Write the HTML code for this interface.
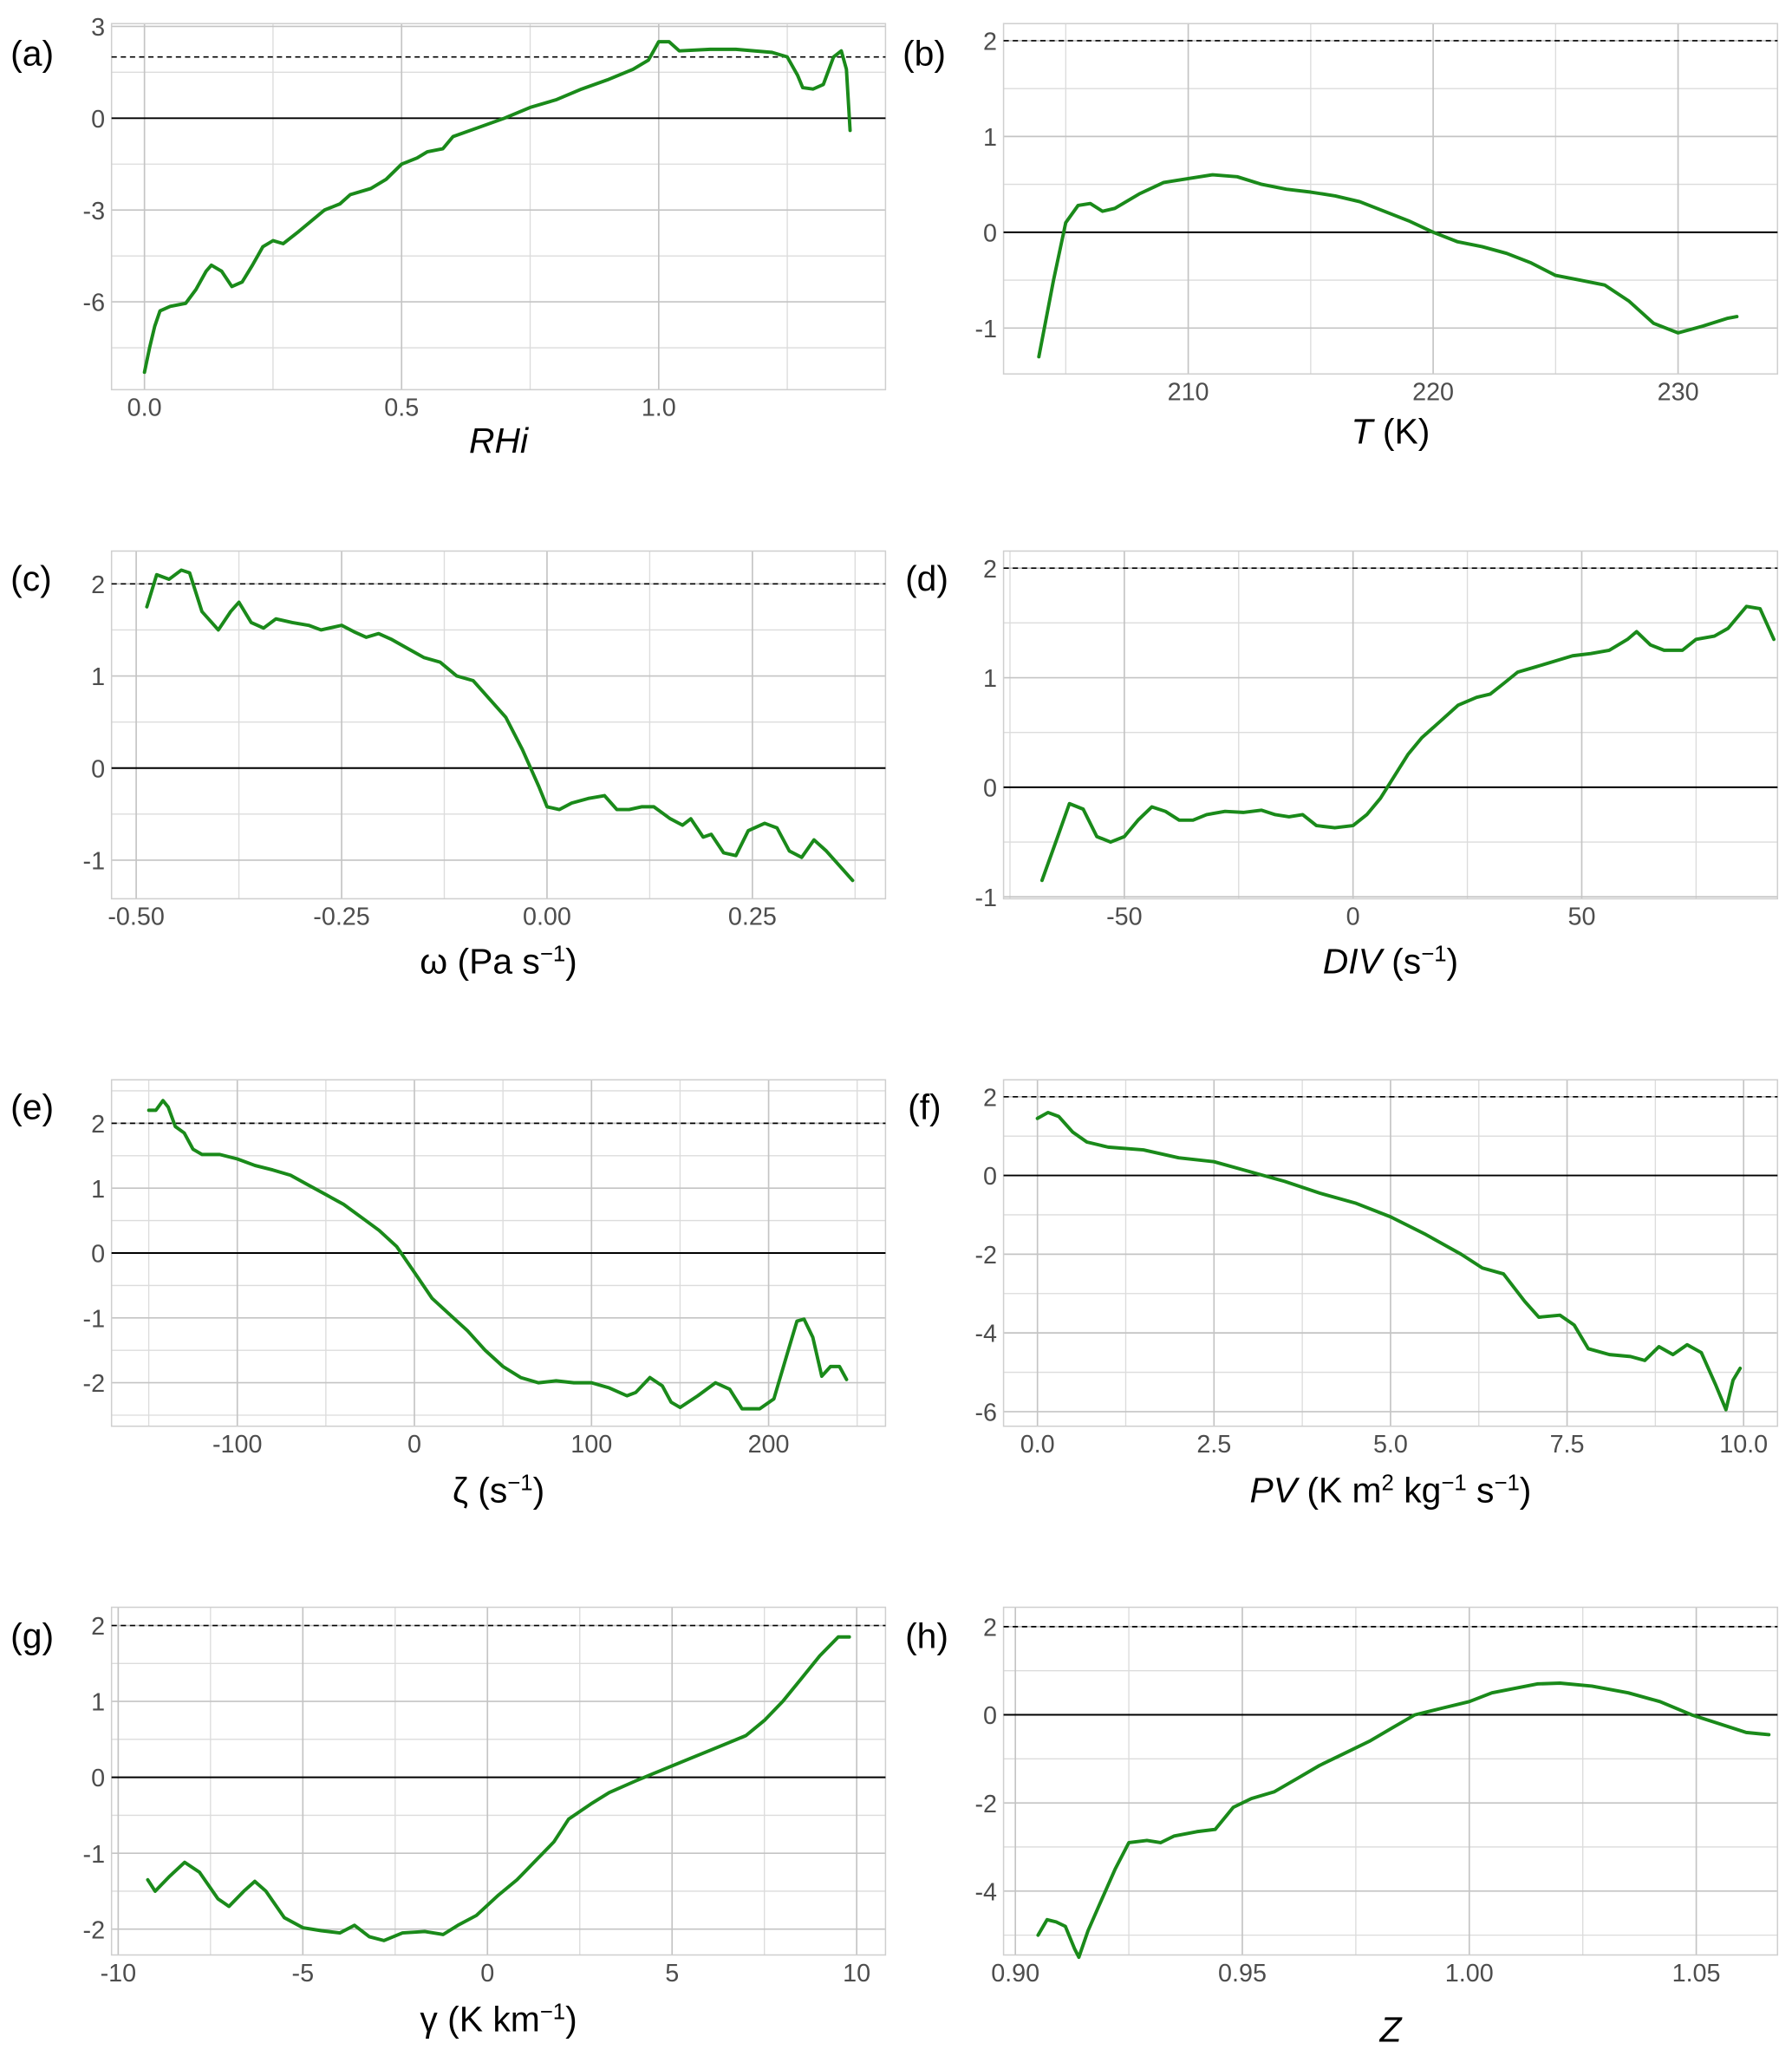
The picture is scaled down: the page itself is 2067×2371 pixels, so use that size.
<!DOCTYPE html>
<html><head><meta charset="utf-8">
<style>
html,body{margin:0;padding:0;background:#fff;}
svg{display:block;font-family:"Liberation Sans",sans-serif;}
</style></head>
<body>
<svg id="fig" width="2067" height="2371" viewBox="0 0 1366 1567" xmlns="http://www.w3.org/2000/svg"></svg>
<script>
// ---- data arrays ----
const aX=[0.0,0.01,0.02,0.03,0.05,0.08,0.1,0.12,0.13,0.15,0.17,0.19,0.21,0.23,0.25,0.27,0.3,0.35,0.38,0.4,0.44,0.47,0.5,0.53,0.55,0.58,0.6,0.65,0.7,0.75,0.8,0.85,0.9,0.95,0.98,1.0,1.02,1.04,1.1,1.15,1.22,1.25,1.27,1.28,1.3,1.32,1.34,1.355,1.365,1.372];
const aY=[-8.3,-7.5,-6.8,-6.3,-6.15,-6.05,-5.6,-5.0,-4.8,-5.0,-5.5,-5.35,-4.8,-4.2,-4.0,-4.1,-3.7,-3.0,-2.8,-2.5,-2.3,-2.0,-1.5,-1.3,-1.1,-1.0,-0.6,-0.3,0.0,0.35,0.6,0.95,1.25,1.6,1.9,2.5,2.5,2.2,2.25,2.25,2.15,2.0,1.4,1.0,0.95,1.1,2.0,2.2,1.6,-0.4];
const bX=[203.9,204.5,205,205.5,206,206.5,207,208,209,210,211,212,213,214,215,216,217,218,219,220,221,222,223,224,225,226,227,228,229,230,231,232,232.4];
const bY=[-1.3,-0.5,0.1,0.28,0.3,0.22,0.25,0.4,0.52,0.56,0.6,0.58,0.5,0.45,0.42,0.38,0.32,0.22,0.12,0.0,-0.1,-0.15,-0.22,-0.32,-0.45,-0.5,-0.55,-0.72,-0.95,-1.05,-0.98,-0.9,-0.88];
const cX=[-0.487,-0.475,-0.46,-0.445,-0.435,-0.42,-0.40,-0.385,-0.375,-0.36,-0.345,-0.33,-0.31,-0.29,-0.275,-0.25,-0.235,-0.22,-0.205,-0.19,-0.17,-0.15,-0.13,-0.11,-0.09,-0.07,-0.05,-0.03,-0.01,0.0,0.015,0.03,0.05,0.07,0.085,0.1,0.115,0.13,0.15,0.165,0.175,0.19,0.2,0.215,0.23,0.245,0.265,0.28,0.295,0.31,0.325,0.34,0.36,0.372];
const cY=[1.75,2.1,2.05,2.15,2.12,1.7,1.5,1.7,1.8,1.58,1.52,1.62,1.58,1.55,1.5,1.55,1.48,1.42,1.46,1.4,1.3,1.2,1.15,1.0,0.95,0.75,0.55,0.2,-0.2,-0.42,-0.45,-0.38,-0.33,-0.3,-0.45,-0.45,-0.42,-0.42,-0.55,-0.62,-0.55,-0.75,-0.72,-0.92,-0.95,-0.68,-0.6,-0.65,-0.9,-0.97,-0.78,-0.9,-1.1,-1.22];
const dX=[-68,-65,-62,-59,-56,-53,-50,-47,-44,-41,-38,-35,-32,-28,-24,-20,-17,-14,-11,-8,-4,0,3,6,9,12,15,19,23,27,30,33,36,40,44,48,52,56,60,62,65,68,72,75,79,82,86,89,92];
const dY=[-0.85,-0.5,-0.15,-0.2,-0.45,-0.5,-0.45,-0.3,-0.18,-0.22,-0.3,-0.3,-0.25,-0.22,-0.23,-0.21,-0.25,-0.27,-0.25,-0.35,-0.37,-0.35,-0.25,-0.1,0.1,0.3,0.45,0.6,0.75,0.82,0.85,0.95,1.05,1.1,1.15,1.2,1.22,1.25,1.35,1.42,1.3,1.25,1.25,1.35,1.38,1.45,1.65,1.63,1.35];
const eX=[-150,-146,-142,-139,-135,-130,-125,-120,-110,-100,-90,-80,-70,-60,-50,-40,-30,-20,-10,0,10,20,30,40,50,60,70,80,90,100,110,120,125,133,140,145,150,160,170,178,185,195,203,210,216,220,225,230,235,240,244];
const eY=[2.2,2.2,2.35,2.25,1.95,1.85,1.6,1.52,1.52,1.45,1.35,1.28,1.2,1.05,0.9,0.75,0.55,0.35,0.1,-0.3,-0.7,-0.95,-1.2,-1.5,-1.75,-1.92,-2.0,-1.97,-2.0,-2.0,-2.08,-2.2,-2.15,-1.92,-2.05,-2.3,-2.38,-2.2,-2.0,-2.1,-2.4,-2.4,-2.25,-1.6,-1.05,-1.02,-1.3,-1.9,-1.75,-1.75,-1.95];
const fX=[0.0,0.15,0.3,0.5,0.7,1.0,1.5,2.0,2.5,3.0,3.5,4.0,4.5,5.0,5.5,6.0,6.3,6.6,6.9,7.1,7.4,7.6,7.8,8.1,8.4,8.6,8.8,9.0,9.2,9.4,9.6,9.75,9.85,9.95];
const fY=[1.45,1.6,1.5,1.1,0.85,0.72,0.65,0.45,0.35,0.1,-0.15,-0.45,-0.7,-1.05,-1.5,-2.0,-2.35,-2.5,-3.2,-3.6,-3.55,-3.8,-4.4,-4.55,-4.6,-4.7,-4.35,-4.55,-4.3,-4.5,-5.3,-5.95,-5.2,-4.9];
const gX=[-9.2,-9.0,-8.6,-8.2,-7.8,-7.3,-7.0,-6.6,-6.3,-6.0,-5.5,-5.0,-4.5,-4.0,-3.6,-3.2,-2.8,-2.3,-1.7,-1.2,-0.8,-0.3,0.3,0.8,1.3,1.8,2.2,2.8,3.3,4.0,4.5,5.0,5.5,6.0,6.5,7.0,7.5,8.0,8.5,9.0,9.5,9.8];
const gY=[-1.35,-1.5,-1.3,-1.12,-1.25,-1.6,-1.7,-1.5,-1.37,-1.5,-1.85,-1.98,-2.02,-2.05,-1.95,-2.1,-2.15,-2.05,-2.03,-2.07,-1.95,-1.82,-1.55,-1.35,-1.1,-0.85,-0.55,-0.35,-0.2,-0.05,0.05,0.15,0.25,0.35,0.45,0.55,0.75,1.0,1.3,1.6,1.85,1.85];
const hX=[0.905,0.907,0.909,0.911,0.913,0.914,0.916,0.919,0.922,0.925,0.929,0.932,0.935,0.94,0.944,0.948,0.952,0.957,0.962,0.967,0.972,0.978,0.983,0.988,0.994,1.0,1.005,1.01,1.015,1.02,1.027,1.035,1.042,1.049,1.055,1.061,1.066];
const hY=[-5.0,-4.65,-4.7,-4.8,-5.3,-5.5,-4.9,-4.2,-3.5,-2.9,-2.85,-2.9,-2.75,-2.65,-2.6,-2.1,-1.9,-1.75,-1.45,-1.15,-0.9,-0.6,-0.3,0.0,0.15,0.3,0.5,0.6,0.7,0.72,0.65,0.5,0.3,0.0,-0.2,-0.4,-0.45];
// tick arrays
const aXt=[0,0.5,1.0], aXl=["0.0","0.5","1.0"], aYt=[-6,-3,0,3], aYl=["-6","-3","0","3"];
const bXt=[210,220,230], bXl=["210","220","230"], bYt=[-1,0,1,2], bYl=["-1","0","1","2"];
const cXt=[-0.5,-0.25,0,0.25], cXl=["-0.50","-0.25","0.00","0.25"], cYt=[-1,0,1,2], cYl=["-1","0","1","2"];
const dXt=[-50,0,50], dXl=["-50","0","50"], dYt=[-1,0,1,2], dYl=["-1","0","1","2"];
const eXt=[-100,0,100,200], eXl=["-100","0","100","200"], eYt=[-2,-1,0,1,2], eYl=["-2","-1","0","1","2"];
const fXt=[0,2.5,5,7.5,10], fXl=["0.0","2.5","5.0","7.5","10.0"], fYt=[-6,-4,-2,0,2], fYl=["-6","-4","-2","0","2"];
const gXt=[-10,-5,0,5,10], gXl=["-10","-5","0","5","10"], gYt=[-2,-1,0,1,2], gYl=["-2","-1","0","1","2"];
const hXt=[0.90,0.95,1.00,1.05], hXl=["0.90","0.95","1.00","1.05"], hYt=[-4,-2,0,2], hYl=["-4","-2","0","2"];

const NS="http://www.w3.org/2000/svg";
const svg=document.getElementById('fig');
function mk(tag,attrs,parent){const e=document.createElementNS(NS,tag);for(const k in attrs)e.setAttribute(k,attrs[k]);(parent||svg).appendChild(e);return e;}

function panel(p){
  const g=mk('g',{});
  
  
  const sx=v=>p.x0+(v-p.xmin)/(p.xmax-p.xmin)*(p.x1-p.x0);
  const sy=v=>p.y1-(v-p.ymin)/(p.ymax-p.ymin)*(p.y1-p.y0);
  const xs=p.xt[1]-p.xt[0], ys=p.yt[1]-p.yt[0];
  const minors=(t,s,lo,hi)=>{const m=[];const all=[t[0]-s].concat(t).concat([t[t.length-1]+s]);for(let i=0;i<all.length-1;i++){const v=(all[i]+all[i+1])/2;if(v>lo&&v<hi)m.push(v);}return m;};
  minors(p.xt,xs,p.xmin,p.xmax).forEach(v=>{const l=mk('line',{x1:sx(v),x2:sx(v),y1:p.y0,y2:p.y1,stroke:'#dcdcdc','stroke-width':0.9},g);});
  minors(p.yt,ys,p.ymin,p.ymax).forEach(v=>{const l=mk('line',{x1:p.x0,x2:p.x1,y1:sy(v),y2:sy(v),stroke:'#dcdcdc','stroke-width':0.9},g);});
  p.xt.forEach((v,i)=>{
    const l=mk('line',{x1:sx(v),x2:sx(v),y1:p.y0,y2:p.y1,stroke:'#c4c4c4','stroke-width':1.1},g);
    
    const t=mk('text',{x:sx(v),y:p.y1+20,'text-anchor':'middle','font-size':19,fill:'#4d4d4d'},g);
    t.textContent=p.xl[i];
    
  });
  p.yt.forEach((v,i)=>{
    const l=mk('line',{x1:p.x0,x2:p.x1,y1:sy(v),y2:sy(v),stroke:'#c4c4c4','stroke-width':1.1},g);
    
    const t=mk('text',{x:p.x0-5,y:sy(v)+7,'text-anchor':'end','font-size':19,fill:'#4d4d4d'},g);
    t.textContent=p.yl[i];
    
  });
  const fr=mk('rect',{x:p.x0,y:p.y0,width:p.x1-p.x0,height:p.y1-p.y0,fill:'none',stroke:'#cfcfcf','stroke-width':1},g);
  
  const z=mk('line',{x1:p.x0,x2:p.x1,y1:sy(0),y2:sy(0),stroke:'#000','stroke-width':1.3},g);
  
  const d=mk('line',{x1:p.x0,x2:p.x1,y1:sy(2),y2:sy(2),stroke:'#000','stroke-width':1.1,'stroke-dasharray':'4,3'},g);
  
  const pts=p.X.map((v,i)=>sx(v).toFixed(1)+','+sy(p.Y[i]).toFixed(1)).join(' ');
  const c=mk('polyline',{points:pts,fill:'none',stroke:'#1a8a1a','stroke-width':2.6,'stroke-linejoin':'round','stroke-linecap':'round'},g);
  
  const lab=mk('text',{x:p.lx,y:p.ly,'font-size':27,fill:'#000'},g);
  lab.textContent='('+p.id+')';
  
  const ti=mk('text',{x:(p.x0+p.x1)/2,y:p.ty,'text-anchor':'middle','font-size':27,fill:'#000'},g);
  ti.innerHTML=p.title;
  
}
const sup=s=>'<tspan baseline-shift="super" font-size="17">'+s+'</tspan>';
panel({id:'a',x0:85,x1:675,y0:18,y1:297,xmin:-0.064,xmax:1.441,ymin:-8.87,ymax:3.09,X:aX,Y:aY,xt:aXt,xl:aXl,yt:aYt,yl:aYl,lx:8,ly:50,ty:345,title:'<tspan font-style="italic">RHi</tspan>'});
panel({id:'b',x0:765,x1:1355,y0:18,y1:285,xmin:202.46,xmax:234.06,ymin:-1.479,ymax:2.178,X:bX,Y:bY,xt:bXt,xl:bXl,yt:bYt,yl:bYl,lx:688,ly:50,ty:338,title:'<tspan font-style="italic">T</tspan> (K)'});
panel({id:'c',x0:85,x1:675,y0:420,y1:685,xmin:-0.53,xmax:0.412,ymin:-1.419,ymax:2.356,X:cX,Y:cY,xt:cXt,xl:cXl,yt:cYt,yl:cYl,lx:8,ly:450,ty:742,title:'ω (Pa s'+sup('−1')+')'});
panel({id:'d',x0:765,x1:1355,y0:420,y1:685,xmin:-76.4,xmax:92.8,ymin:-1.018,ymax:2.156,X:dX,Y:dY,xt:dXt,xl:dXl,yt:dYt,yl:dYl,lx:690,ly:450,ty:742,title:'<tspan font-style="italic">DIV</tspan> (s'+sup('−1')+')'});
panel({id:'e',x0:85,x1:675,y0:823,y1:1087,xmin:-171,xmax:266,ymin:-2.67,ymax:2.67,X:eX,Y:eY,xt:eXt,xl:eXl,yt:eYt,yl:eYl,lx:8,ly:853,ty:1145,title:'ζ (s'+sup('−1')+')'});
panel({id:'f',x0:765,x1:1355,y0:823,y1:1087,xmin:-0.48,xmax:10.48,ymin:-6.37,ymax:2.43,X:fX,Y:fY,xt:fXt,xl:fXl,yt:fYt,yl:fYl,lx:692,ly:853,ty:1145,title:'<tspan font-style="italic">PV</tspan> (K m'+sup('2')+' kg'+sup('−1')+' s'+sup('−1')+')'});
panel({id:'g',x0:85,x1:675,y0:1225,y1:1490,xmin:-10.18,xmax:10.78,ymin:-2.34,ymax:2.24,X:gX,Y:gY,xt:gXt,xl:gXl,yt:gYt,yl:gYl,lx:8,ly:1256,ty:1548,title:'γ (K km'+sup('−1')+')'});
panel({id:'h',x0:765,x1:1355,y0:1225,y1:1490,xmin:0.8974,xmax:1.0679,ymin:-5.45,ymax:2.44,X:hX,Y:hY,xt:hXt,xl:hXl,yt:hYt,yl:hYl,lx:690,ly:1256,ty:1556,title:'<tspan font-style="italic">Z</tspan>'});
</script>
</body></html>
